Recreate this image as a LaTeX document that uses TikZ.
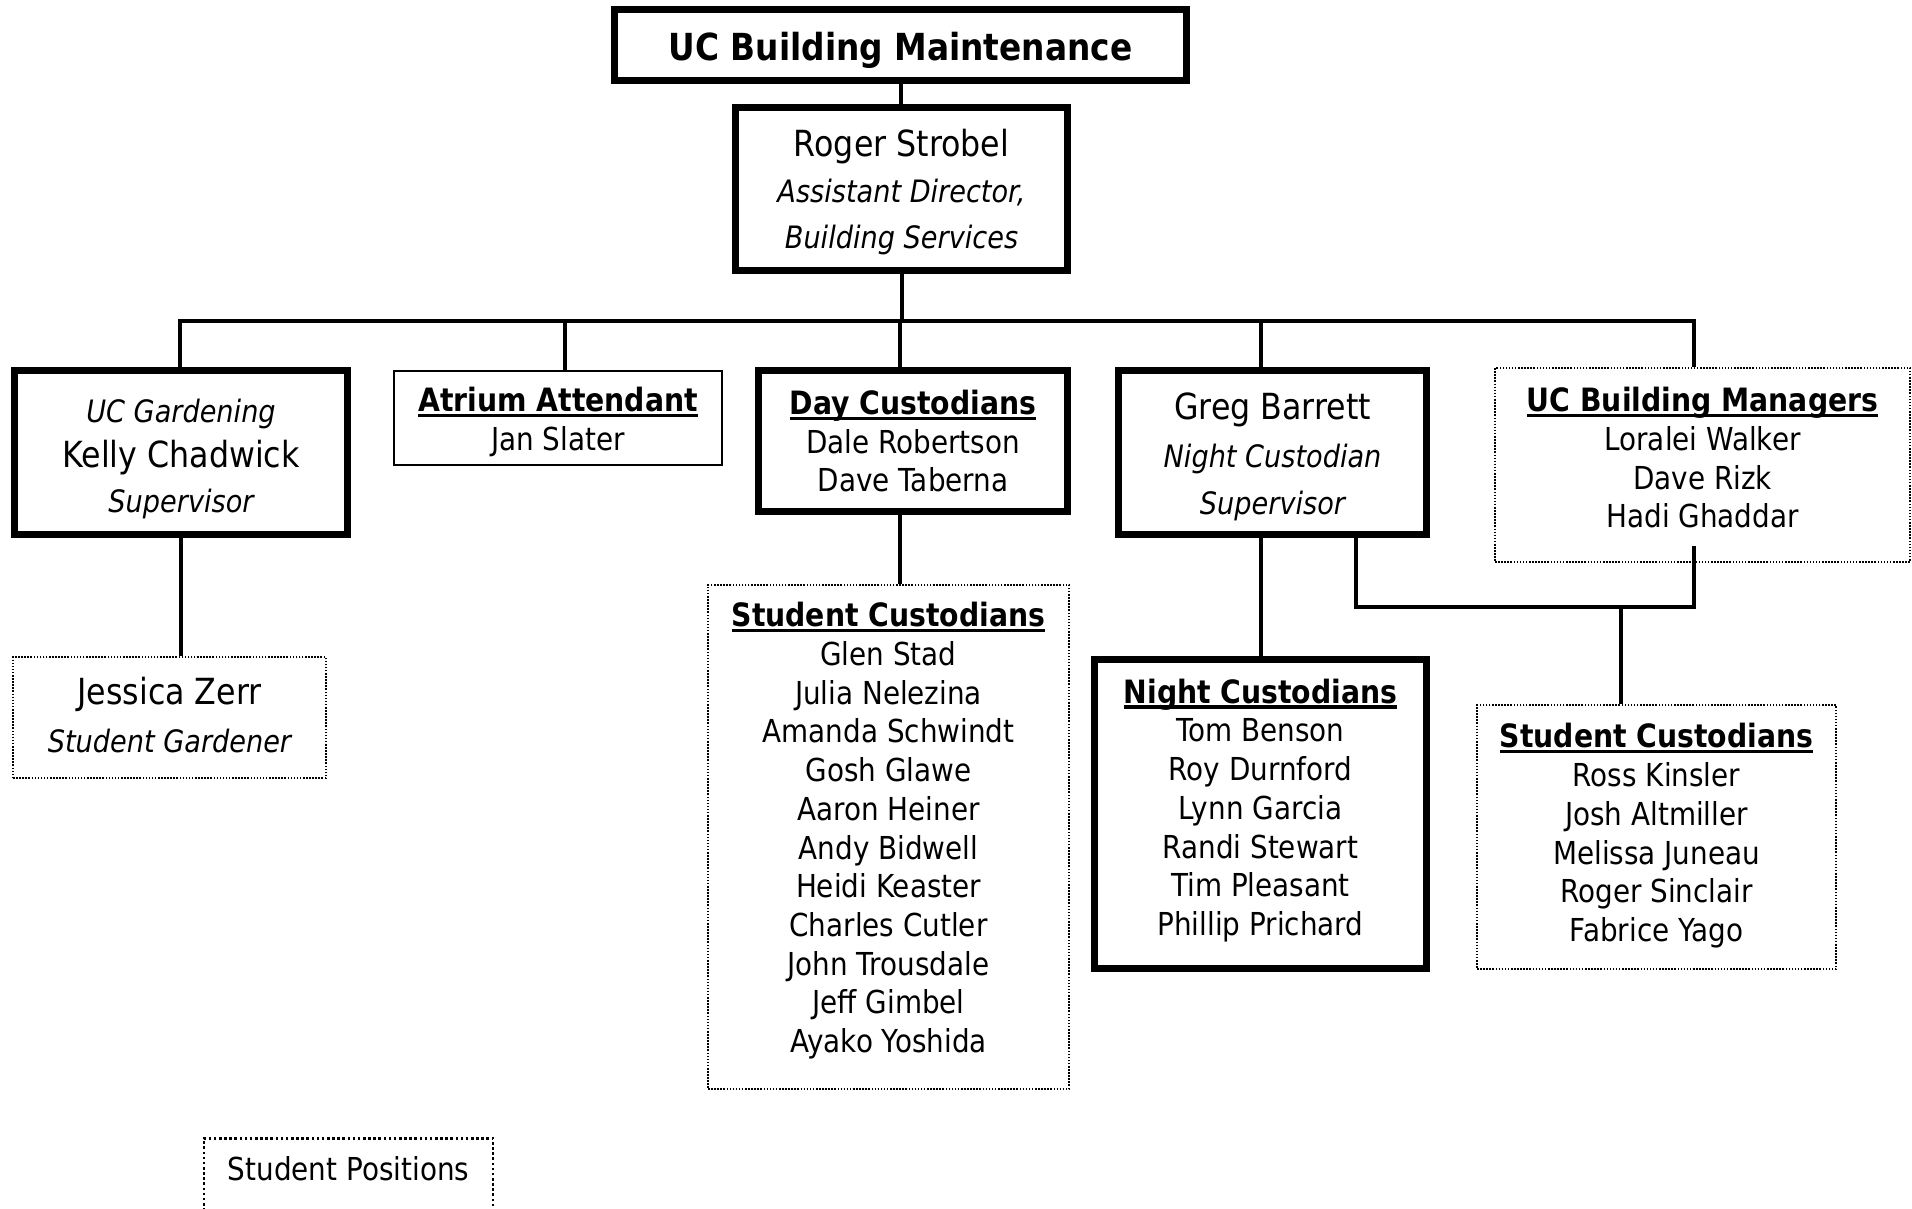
\documentclass[tikz,border=0pt]{standalone}
\usepackage{fontspec}
\setmainfont{DejaVu Sans}[FakeStretch=0.88]
% bold heading with a rule just under the baseline
\newcommand\hd[1]{\setbox0\hbox{\fontsize{12.5}{15}\selectfont\bfseries #1}\rlap{\rule[-0.17em]{\wd0}{0.1em}}\box0}
\newcommand\bigname[1]{{\fontsize{14}{17}\selectfont #1}}
\newcommand\role[1]{{\fontsize{12}{15}\selectfont\itshape #1}}
\begin{document}
\begin{tikzpicture}[x=0.389pt,y=-0.389pt,
  every node/.style={align=center, inner sep=0pt, font=\fontsize{12.3}{15.06}\selectfont},
  thickbox/.style={draw, line width=2.72pt},
  thinbox/.style={draw, line width=0.6pt},
  dotbox/.style={draw, line width=0.6pt, dash pattern=on 0.6pt off 0.6pt},
  sz/.style 2 args={minimum width=#1*0.389pt, minimum height=#2*0.389pt},
  conn/.style={line width=1.56pt},
]
\fill[white] (0,0) rectangle (1912,1208);
\useasboundingbox (0,0) rectangle (1912,1208);

% box frames
\node[thickbox, sz={572}{71}]   (top)     at (900.5,45)    {};
\node[thickbox, sz={332}{163}]  (roger)   at (901.5,189)   {};
\node[thickbox, sz={333}{164}]  (kelly)   at (181,452.5)   {};
\node[thinbox,  sz={328}{94}]   (atrium)  at (558,418)     {};
\node[thickbox, sz={309}{141}]  (day)     at (913,441)     {};
\node[thickbox, sz={308}{164}]  (greg)    at (1272.5,452.5){};
\node[dotbox,   sz={415}{194}]  (ucbm)    at (1702.5,465)  {};
\node[dotbox,   sz={313}{121}]  (jessica) at (169.5,717.5) {};
\node[dotbox,   sz={361}{504}]  (dstud)   at (888.5,837)   {};
\node[thickbox, sz={332}{309}]  (night)   at (1260.5,814)  {};
\node[dotbox,   sz={359}{264}]  (rstud)   at (1656.5,837)  {};
\node[draw, line width=1pt, dash pattern=on 1pt off 1pt, minimum width=289*0.389pt,
  text height=16.3pt, text depth=23.7pt, anchor=north] (spos) at (348.5,1137) {Student Positions};

% box texts
\node[yshift=-1.9pt, font=\fontsize{14.5}{17}\selectfont\bfseries] (topT) at (top) {UC Building Maintenance};
\node[yshift=-1.2pt, font=\fontsize{12}{18}\selectfont] (rogerT) at (roger)
  {\bigname{Roger Strobel}\\ \role{Assistant Director,}\\ \role{Building Services}};
\node[yshift=-2.4pt, font=\fontsize{12}{17.5}\selectfont] (kellyT) at (kelly)
  {\role{UC Gardening}\\ \bigname{Kelly Chadwick}\\ \role{Supervisor}};
\node[yshift=-1.4pt] (atriumT) at (atrium) {\hd{Atrium Attendant}\\ Jan Slater};
\node (dayT) at (day) {\hd{Day Custodians}\\ Dale Robertson\\ Dave Taberna};
\node[yshift=-1.7pt, font=\fontsize{12}{18.5}\selectfont] (gregT) at (greg)
  {\bigname{Greg Barrett}\\ \role{Night Custodian}\\ \role{Supervisor}};
\node[yshift=2.8pt] (ucbmT) at (ucbm)
  {\hd{UC Building Managers}\\ Loralei Walker\\ Dave Rizk\\ Hadi Ghaddar};
\node[yshift=0.9pt, font=\fontsize{12}{18.7}\selectfont] (jessicaT) at (jessica)
  {\bigname{Jessica Zerr}\\ \role{Student Gardener}};
\node[yshift=2.4pt] (dstudT) at (dstud)
  {\hd{Student Custodians}\\ Glen Stad\\ Julia Nelezina\\ Amanda Schwindt\\ Gosh Glawe\\ Aaron Heiner\\ Andy Bidwell\\ Heidi Keaster\\ Charles Cutler\\ John Trousdale\\ Jeff Gimbel\\ Ayako Yoshida};
\node[yshift=1.4pt] (nightT) at (night)
  {\hd{Night Custodians}\\ Tom Benson\\ Roy Durnford\\ Lynn Garcia\\ Randi Stewart\\ Tim Pleasant\\ Phillip Prichard};
\node[yshift=0.5pt] (rstudT) at (rstud)
  {\hd{Student Custodians}\\ Ross Kinsler\\ Josh Altmiller\\ Melissa Juneau\\ Roger Sinclair\\ Fabrice Yago};

% connector points
\coordinate (dK) at (180,321);
\coordinate (dA) at (565,321);
\coordinate (dD) at (900,321);
\coordinate (dG) at (1261,321);
\coordinate (dU) at (1694,321);
\coordinate (e1) at (1356,607);
\coordinate (e3) at (1621,607);
\coordinate (uin) at (1694,546);

% connectors
\draw[conn] (top.south) -- (top.south |- roger.north);
\draw[conn] (roger.south) -- (roger.south |- dD);
\draw[conn] (dK |- kelly.north) -- (dK) -- (dU) -- (dU |- ucbm.north);
\draw[conn] (dA) -- (dA |- atrium.north);
\draw[conn] (dD) -- (dD |- day.north);
\draw[conn] (dG) -- (dG |- greg.north);
\draw[conn] (kelly.south) -- (kelly.south |- jessica.north);
\draw[conn] (dD |- day.south) -- (dD |- dstud.north);
\draw[conn] (dG |- greg.south) -- (dG |- night.north);
\draw[conn] (e1 |- greg.south) -- (e1) -- (e1 -| uin) -- (uin);
\draw[conn] (e3) -- (e3 |- rstud.north);
\end{tikzpicture}
\end{document}
